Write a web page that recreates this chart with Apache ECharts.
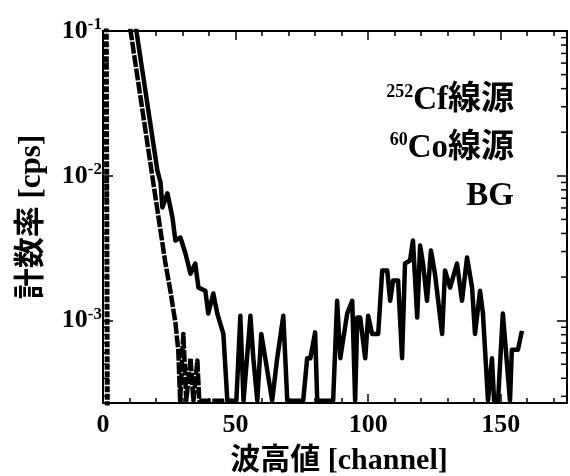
<!DOCTYPE html>
<html><head><meta charset="utf-8">
<script src="https://cdn.jsdelivr.net/npm/echarts@6/dist/echarts.min.js"></script>
<style>html,body{margin:0;padding:0;background:#fff}#c{width:570px;height:476px}</style>
</head><body><div id="c"></div>
<script>
// ---- data ----
const xTicks = [0, 50, 100, 150];
const yMin = 0.00027, yMax = 0.1;
const yMinorMantissas = [2, 3, 4, 5, 6, 7, 8, 9];
const yMinorExps = [-4, -3, -2];
const legendTexts = [['252', 'Cf線源'], ['60', 'Co線源'], ['', 'BG']];
const seriesNames = ['252Cf線源', '60Co線源', 'BG'];
const floorVal = 0.00028; // zero counts drawn along the bottom

const cfData = [
  [10, 0.21], [12.6, 0.1], [20.5, 0.0109], [21.7, 0.0090], [22.4, 0.00605], [24.3, 0.00757],
  [26.2, 0.00516], [27.3, 0.00358], [29.2, 0.00375], [31.1, 0.00291], [33.0, 0.00211],
  [34.8, 0.00248], [36.0, 0.00169], [38.6, 0.00161], [39.7, 0.00112], [41.6, 0.00154],
  [43.1, 0.00112], [45.4, 0.00081], [46.9, floorVal], [50.3, floorVal], [51.8, 0.00108],
  [53.0, floorVal], [55.6, 0.00108], [56.7, 0.00055], [58.2, floorVal], [59.7, 0.00081],
  [61.2, 0.00055], [63.8, floorVal], [65.7, 0.00055], [68.0, 0.00108], [69.5, floorVal],
  [75.5, floorVal], [77.0, 0.00055], [78.2, 0.00055], [80.0, 0.00083], [80.8, floorVal],
  [86.8, floorVal], [88.3, 0.00137], [89.5, 0.00055], [92.1, 0.00112], [94.0, 0.00137],
  [95.1, floorVal], [95.9, 0.00105], [97.0, 0.00105], [98.9, 0.00055], [100.0, 0.00108],
  [101.5, 0.00081], [103.8, 0.00081], [105.3, 0.00222], [107.2, 0.00222], [108.3, 0.00137],
  [109.4, 0.00189], [111.3, 0.00189], [112.8, 0.00055], [113.9, 0.00248], [115.8, 0.0026],
  [116.9, 0.00358], [118.5, 0.00105], [119.6, 0.0033], [120.7, 0.00248], [122.2, 0.00137],
  [123.7, 0.00305], [125.2, 0.00211], [127.9, 0.00081], [129.0, 0.00222], [130.9, 0.00169],
  [133.5, 0.00248], [135.4, 0.00137], [137.3, 0.00273], [139.2, 0.00169], [140.3, 0.00081],
  [142.2, 0.00161], [143.3, 0.00112], [145.2, floorVal], [146.7, 0.00055], [147.5, floorVal],
  [149.0, floorVal], [150.8, 0.00112], [153.5, floorVal], [154.2, 0.00063], [156.5, 0.00063],
  [158.0, 0.00085]
];
const coData = [
  [8, 0.197], [10.4, 0.1], [19.8, 0.0071], [23.5, 0.00252], [25.4, 0.00161], [27.3, 0.00097],
  [28.4, 0.00062], [29.1, floorVal], [30.3, 0.00081], [31.4, floorVal], [33.0, 0.00055],
  [34.1, floorVal], [35.6, 0.00053], [36.3, floorVal], [48, floorVal]
];
const bgData = [[0, 10], [1, 3], [2, 0.000001]];

// ---- chart ----
const FONT = "'Liberation Serif', 'Times New Roman', 'Noto Sans CJK JP', serif";
const chart = echarts.init(document.getElementById('c'), null, {renderer: 'canvas'});
const GL = 103, GR = 3, GT = 31, GB = 73;

function supLabel(v) {
  const e = Math.log10(v);
  const r = Math.round(e);
  if (Math.abs(e - r) > 1e-6) return '';
  return '{b|10}{s|' + r + '}';
}

const axisLineStyle = {color: '#000', width: 2};
const xCommon = {
  type: 'value', min: 0, max: 175, interval: 50,
  axisLine: {show: true, onZero: false, lineStyle: axisLineStyle},
  axisTick: {show: true, inside: true, length: 9, lineStyle: {color: '#000', width: 1.5}},
  minorTick: {show: true, splitNumber: 5, length: 5, lineStyle: {color: '#000', width: 1.5}},
  splitLine: {show: false}
};
const yCommon = {
  type: 'log', logBase: 10, min: yMin, max: yMax,
  axisLine: {show: true, onZero: false, lineStyle: axisLineStyle},
  axisTick: {show: true, inside: true, length: 10, lineStyle: {color: '#000', width: 1.5}},
  splitLine: {show: false}
};

const option = {
  animation: false,
  backgroundColor: '#fff',
  grid: {left: GL, right: GR, top: GT, bottom: GB, containLabel: false, outerBoundsMode: 'none'},
  xAxis: [
    Object.assign({}, xCommon, {
      position: 'bottom',
      name: '波高値 [channel]', nameLocation: 'middle', nameGap: 43,
      nameTextStyle: {fontFamily: FONT, fontWeight: 'bold', fontSize: 30, color: '#000', padding: [0, 0, 0, 8]},
      axisLabel: {show: true, margin: 9, fontFamily: FONT, fontWeight: 'bold', fontSize: 26, color: '#000',
        formatter: v => (xTicks.indexOf(v) >= 0 ? String(v) : '')}
    }),
    Object.assign({}, xCommon, {position: 'top', axisLabel: {show: false}})
  ],
  yAxis: [
    Object.assign({}, yCommon, {
      position: 'left',
      name: '計数率 [cps]', nameLocation: 'middle', nameGap: 56, nameRotate: 90,
      nameTextStyle: {fontFamily: FONT, fontWeight: 'bold', fontSize: 31, color: '#000'},
      axisLabel: {show: true, margin: 1, showMinLabel: false, color: '#000',
        formatter: supLabel,
        rich: {
          b: {fontFamily: FONT, fontWeight: 'bold', fontSize: 26, lineHeight: 30, color: '#000'},
          s: {fontFamily: FONT, fontWeight: 'bold', fontSize: 17, lineHeight: 16, verticalAlign: 'top', color: '#000'}
        }}
    }),
    Object.assign({}, yCommon, {position: 'right', axisLabel: {show: false}})
  ],
  series: [
    {name: seriesNames[0], type: 'line', data: cfData, showSymbol: false, symbol: 'none', clip: true,
      lineStyle: {color: '#000', width: 4.5, type: 'solid', join: 'round'}, z: 3},
    {name: seriesNames[1], type: 'line', data: coData, showSymbol: false, symbol: 'none', clip: true,
      lineStyle: {color: '#000', width: 4.5, type: [12, 1.5], join: 'round'}, z: 2},
    {name: seriesNames[2], type: 'line', data: bgData, showSymbol: false, symbol: 'none', clip: true,
      lineStyle: {color: '#000', width: 5, type: [6, 1.5]}, z: 2}
  ]
};
chart.setOption(option);

// minor log ticks (positions from the library's own y scale)
const graphics = [];
const xL = chart.convertToPixel({xAxisIndex: 0}, 0);
const xR = chart.convertToPixel({xAxisIndex: 0}, 175);
yMinorExps.forEach(e => {
  yMinorMantissas.forEach(m => {
    const v = m * Math.pow(10, e);
    if (v < yMin || v > yMax) return;
    const y = chart.convertToPixel({yAxisIndex: 0}, v);
    graphics.push({type: 'line', shape: {x1: xL, y1: y, x2: xL + 6, y2: y}, style: {stroke: '#000', lineWidth: 1.5}, z: 10});
    graphics.push({type: 'line', shape: {x1: xR - 6, y1: y, x2: xR, y2: y}, style: {stroke: '#000', lineWidth: 1.5}, z: 10});
  });
});
// legend texts (right aligned, inside the plot)
const legendX = 514, legendY0 = 100, legendDy = 48;
legendTexts.forEach((t, i) => {
  graphics.push({
    type: 'text', x: legendX, y: legendY0 + i * legendDy, z: 20,
    style: {
      text: (t[0] ? '{s|' + t[0] + '}' : '') + '{b|' + t[1] + '}',
      align: 'right', verticalAlign: 'middle',
      rich: {
        b: {fontFamily: FONT, fontWeight: 'bold', fontSize: 33, lineHeight: 34, fill: '#000', color: '#000'},
        s: {fontFamily: FONT, fontWeight: 'bold', fontSize: 18, lineHeight: 18, verticalAlign: 'top', fill: '#000', color: '#000'}
      }
    }
  });
});
chart.setOption({graphic: graphics});
</script>
</body></html>
